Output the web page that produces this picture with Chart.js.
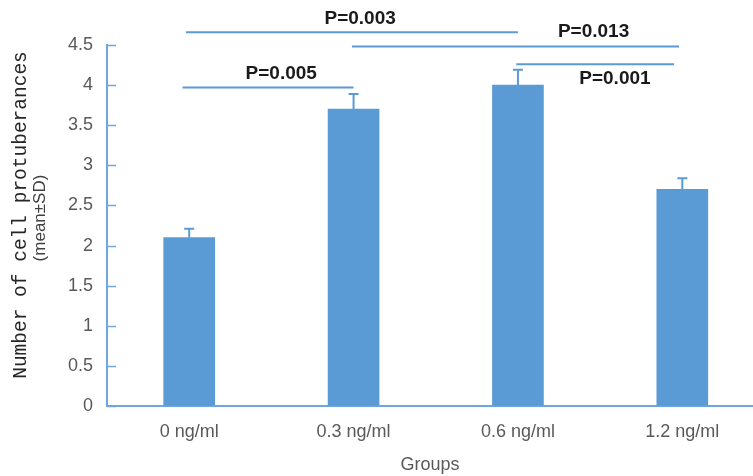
<!DOCTYPE html>
<html>
<head>
<meta charset="utf-8">
<script src="https://cdn.jsdelivr.net/npm/chart.js@4/dist/chart.umd.min.js"></script>
<style>
html,body{margin:0;padding:0;background:#fff;overflow:hidden;}
canvas{display:block;}
</style>
</head>
<body>
<canvas id="c" width="753" height="476"></canvas>
<script>
// ---- data ----
const categories = ['0 ng/ml', '0.3 ng/ml', '0.6 ng/ml', '1.2 ng/ml'];
const means = [2.1, 3.7, 4.0, 2.7];
const sds = [0.11, 0.19, 0.19, 0.14];
const yTickValues = [0, 0.5, 1, 1.5, 2, 2.5, 3, 3.5, 4, 4.5];
const yTickLabels = ['0', '0.5', '1', '1.5', '2', '2.5', '3', '3.5', '4', '4.5'];
const compLabels = ['P=0.005', 'P=0.003', 'P=0.013', 'P=0.001'];
const compX1 = [-0.04, -0.02, 0.99, 1.99];
const compX2 = [1.0, 2.0, 2.98, 2.95];
const compLineY = [3.97, 4.66, 4.48, 4.26];
const compTextX = [0.56, 1.04, 2.46, 2.59];
const compTextY = [4.14, 4.83, 4.66, 4.08];
const xTitle = 'Groups';
const yTitle1 = 'Number of cell protuberances';
const yTitle2 = '(mean±SD)';

const BLUE = '#5B9BD5';
const AXIS = '#6FA6DB';

const extras = {
  id: 'extras',
  afterDatasetsDraw(chart) {
    const ctx = chart.ctx;
    const xs = chart.scales.x, ys = chart.scales.y;
    ctx.save();
    // error bars
    ctx.strokeStyle = BLUE;
    ctx.lineWidth = 2;
    means.forEach((m, i) => {
      const px = xs.getPixelForValue(i);
      const top = ys.getPixelForValue(m);
      const cap = ys.getPixelForValue(m + sds[i]);
      ctx.beginPath();
      ctx.moveTo(px, top);
      ctx.lineTo(px, cap);
      ctx.moveTo(px - 5, cap);
      ctx.lineTo(px + 5, cap);
      ctx.stroke();
    });
    // inward y ticks
    ctx.strokeStyle = AXIS;
    ctx.lineWidth = 1.5;
    const left = chart.chartArea.left;
    yTickValues.forEach(v => {
      const py = Math.round(ys.getPixelForValue(v)) + 0.5;
      ctx.beginPath();
      ctx.moveTo(left, py);
      ctx.lineTo(left + 9, py);
      ctx.stroke();
    });
    // comparison lines and labels
    ctx.strokeStyle = BLUE;
    ctx.lineWidth = 2;
    ctx.fillStyle = '#1a1a1a';
    ctx.font = 'bold 19px "Liberation Sans", Arial, sans-serif';
    ctx.textAlign = 'center';
    ctx.textBaseline = 'middle';
    compLabels.forEach((t, i) => {
      const y = ys.getPixelForValue(compLineY[i]);
      ctx.beginPath();
      ctx.moveTo(xs.getPixelForValue(compX1[i]), y);
      ctx.lineTo(xs.getPixelForValue(compX2[i]), y);
      ctx.stroke();
      ctx.fillText(t, xs.getPixelForValue(compTextX[i]), ys.getPixelForValue(compTextY[i]));
    });
    // y title (two fonts)
    ctx.fillStyle = '#262626';
    ctx.save();
    ctx.translate(21, 215);
    ctx.rotate(-Math.PI / 2);
    ctx.font = '19.5px "Liberation Mono", monospace';
    ctx.fillText(yTitle1, 0, 0);
    ctx.restore();
    ctx.save();
    ctx.translate(40, 218);
    ctx.rotate(-Math.PI / 2);
    ctx.fillStyle = '#404040';
    ctx.font = '17px "Liberation Sans", Arial, sans-serif';
    ctx.fillText(yTitle2, 0, 0);
    ctx.restore();
    ctx.restore();
  }
};

new Chart(document.getElementById('c'), {
  type: 'bar',
  data: {
    datasets: [{
      data: means.map((m, i) => ({ x: i, y: m })),
      backgroundColor: BLUE,
      borderWidth: 0,
      barThickness: 51
    }]
  },
  options: {
    responsive: false,
    animation: false,
    devicePixelRatio: 1,
    layout: { padding: { top: 45, right: 0, bottom: 0, left: 0 } },
    plugins: { legend: { display: false }, tooltip: { enabled: false } },
    scales: {
      x: {
        type: 'linear',
        min: -0.5,
        max: 3.43,
        offset: false,
        afterBuildTicks(scale) { scale.ticks = categories.map((c, i) => ({ value: i })); },
        afterFit(scale) { scale.height = 70; },
        ticks: {
          callback: v => categories[v],
          color: '#595959',
          font: { family: '"Liberation Sans", Arial, sans-serif', size: 18 },
          padding: 15,
          maxRotation: 0,
          autoSkip: false
        },
        grid: { display: true, drawOnChartArea: false, drawTicks: false },
        border: { display: true, color: AXIS, width: 2 },
        title: {
          display: true,
          text: xTitle,
          color: '#595959',
          font: { family: '"Liberation Sans", Arial, sans-serif', size: 18 },
          padding: { top: 4, bottom: 0 }
        }
      },
      y: {
        min: 0,
        max: 4.5,
        afterBuildTicks(scale) { scale.ticks = yTickValues.map(v => ({ value: v })); },
        afterFit(scale) { scale.width = 107; },
        ticks: {
          callback: (v, i) => yTickLabels[yTickValues.indexOf(v)],
          color: '#595959',
          font: { family: '"Liberation Sans", Arial, sans-serif', size: 18 },
          padding: 14
        },
        grid: { display: true, drawOnChartArea: false, drawTicks: false },
        border: { display: true, color: AXIS, width: 2 }
      }
    }
  },
  plugins: [extras]
});
</script>
</body>
</html>
